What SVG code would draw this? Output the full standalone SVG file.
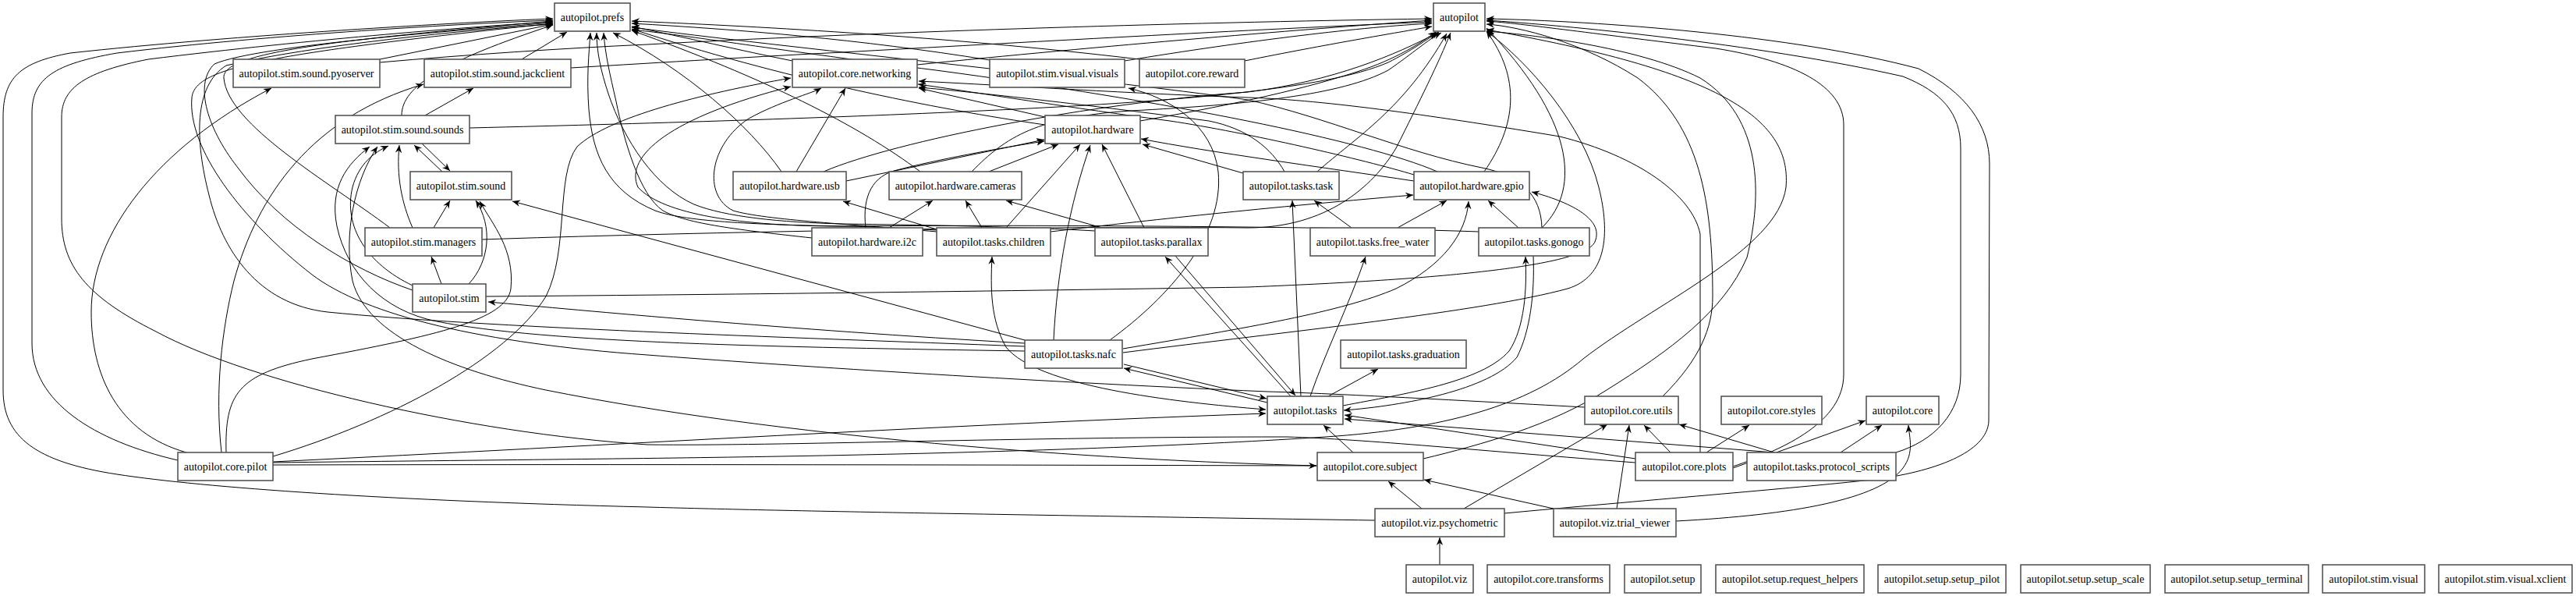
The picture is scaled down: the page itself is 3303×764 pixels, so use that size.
<svg xmlns="http://www.w3.org/2000/svg" width="3303" height="764" viewBox="0 0 3303 764">
<style>
.e{fill:none;stroke:#000;stroke-width:1;marker-end:url(#ah)}
.b{marker-start:url(#ah)}
.n rect{fill:#fff;stroke:#555;stroke-width:1.6}
.n text{font-family:"Liberation Serif","Times New Roman",serif;font-size:14px;text-anchor:middle;fill:#000}
</style>
<defs>
<marker id="ah" viewBox="0 0 10 10" refX="10" refY="5" markerWidth="10" markerHeight="10" markerUnits="userSpaceOnUse" orient="auto-start-reverse"><path d="M0,0.8 L10,5 L0,9.2 L3.2,5 z" fill="#000"/></marker>
</defs>
<rect width="3303" height="764" fill="#fff"/>
<g id="edges">
<path class="e" d="M1763,667 C1300,660 1000,655 830,650 C500,642 260,625 150,608 C45,592 4,560 4,500 L4,150 C4,100 25,80 90,68 C300,45 600,28 709,24"/>
<path class="e" d="M228,590 C120,565 41,515 41,440 L41,145 C41,100 70,82 150,68 C350,44 600,30 709,26"/>
<path class="e" d="M2097,593 C1900,578 1750,563 1650,560 C1300,560 1000,572 830,570 C600,555 320,490 200,425 C110,380 79,340 79,280 L79,150 C79,112 110,92 190,76 C400,50 620,33 709,28"/>
<path class="e" d="M500,292 C420,232 292,160 287,100 C284,68 420,52 709,27"/>
<path class="e" d="M515,148 C515,110 570,78 709,32"/>
<path class="e" d="M487,76 L709,31"/>
<path class="e" d="M669,76 L727,41"/>
<path class="e" d="M529,372 C450,345 360,290 305,215 C262,160 250,105 275,82 C330,58 600,38 709,29"/>
<path class="e" d="M1314,444 C1000,432 620,420 420,400 C330,390 285,320 268,250 C250,180 248,110 290,84 C400,58 600,38 709,31"/>
<path class="e" d="M2032,522 C1850,512 1700,504 1625,502 C1300,488 1000,468 830,455 C620,440 470,405 400,352 C310,282 240,190 246,125 C250,88 330,70 709,30"/>
<path class="e" d="M1314,450 C1000,445 700,440 560,412 C490,398 445,350 432,290 C422,240 445,210 474,188"/>
<path class="e" d="M1689,597 C1400,590 1000,560 700,500 C580,475 470,430 452,360 C440,300 455,230 484,188"/>
<path class="e" d="M487,80 C600,70 720,62 830,57 C1100,42 1500,29 1836,24"/>
<path class="e" d="M732,87 C850,80 980,72 1080,67 C1300,55 1600,38 1836,28"/>
<path class="e" d="M602,164 C850,158 1100,150 1300,140 C1500,130 1700,115 1780,80 C1810,65 1830,50 1845,41"/>
<path class="e" d="M618,307 C850,299 1300,289 1600,292 C1700,292 1760,240 1790,190 C1820,130 1845,80 1860,42"/>
<path class="e" d="M1176,83 C1400,60 1700,35 1836,26"/>
<path class="e" d="M1442,78 C1600,52 1750,34 1836,30"/>
<path class="e" d="M1596,78 C1700,57 1790,42 1836,34"/>
<path class="e" d="M1462,155 C1560,138 1660,118 1740,92 C1790,76 1822,55 1841,41"/>
<path class="e" d="M1056,220 C1150,180 1400,132 1600,118 C1710,104 1790,70 1843,42"/>
<path class="e" d="M1246,220 C1290,175 1330,150 1450,142 C1600,134 1720,122 1780,90 C1812,68 1832,50 1848,42"/>
<path class="e" d="M1689,220 C1740,175 1800,140 1855,43"/>
<path class="e" d="M1903,220 C1945,160 1950,100 1906,40"/>
<path class="e" d="M1977,292 C2030,240 2015,150 1906,36"/>
<path class="e" d="M350,593 C600,590 830,588 1000,585 C1300,580 1550,570 1700,560 C1850,550 1960,520 2030,460 C2120,390 2280,320 2290,240 C2298,150 2200,90 1906,38"/>
<path class="e" d="M1825,588 C1900,570 1990,545 2060,500 C2140,450 2210,400 2240,330 C2260,250 2260,150 2180,100 C2100,60 1960,44 1906,40"/>
<path class="e" d="M2132,508 C2180,460 2196,420 2196,380 C2196,260 2180,160 2100,100 C2030,55 1950,34 1906,31"/>
<path class="e" d="M2222,598 C2290,575 2364,540 2364,480 L2364,160 C2364,110 2300,78 2200,62 C2050,44 1950,30 1906,27"/>
<path class="e" d="M2431,580 C2480,565 2514,530 2514,480 L2514,190 C2514,145 2490,118 2440,98 C2250,55 2000,32 1906,26"/>
<path class="e" d="M1929,658 C2100,642 2300,626 2400,615 C2480,605 2548,580 2550,540 L2551,210 C2551,160 2520,118 2460,88 C2300,45 2050,27 1906,24"/>
<path class="e" d="M1440,452 C1650,425 1900,400 2010,370 C2060,355 2065,300 2050,240 C2030,160 1960,80 1906,40"/>
<path class="e" d="M567,220 L531,186"/>
<path class="e" d="M541,184 L577,219"/>
<path class="e" d="M556,292 L577,257"/>
<path class="e" d="M529,292 C515,260 508,225 512,186"/>
<path class="e" d="M566,364 L553,329"/>
<path class="e" d="M601,364 C628,335 632,290 610,257"/>
<path class="e" d="M529,366 C470,338 440,290 452,240 C460,210 480,195 498,187"/>
<path class="e" d="M623,380 C900,378 1300,373 1600,368 C1800,360 2030,345 2045,310 C2058,280 2010,258 1964,246"/>
<path class="e" d="M1314,440 C1000,422 750,398 626,387"/>
<path class="e" d="M1314,436 L657,258"/>
<path class="e" d="M1351,436 C1355,350 1372,260 1398,186"/>
<path class="e" d="M1423,436 C1500,380 1570,300 1562,220 C1555,160 1500,125 1447,113"/>
<path class="e" d="M1440,447 C1600,420 1720,400 1790,370 C1850,340 1880,300 1883,258"/>
<path class="e" d="M545,148 L607,113"/>
<path class="e" d="M239,580 C150,555 117,480 117,400 C117,300 200,190 348,113"/>
<path class="e" d="M284,580 C275,500 285,420 300,360 C330,250 400,150 543,108"/>
<path class="e" d="M290,580 C288,505 305,480 400,460 C560,430 650,410 655,370 C660,320 632,288 615,258"/>
<path class="e" d="M350,585 C500,540 650,460 700,380 C730,320 712,225 740,188 C780,150 900,120 1014,100"/>
<path class="e" d="M350,592 C800,570 1200,545 1623,530"/>
<path class="e" d="M350,596 C800,595 1300,596 1688,597"/>
<path class="e" d="M1896,297 C1700,290 1300,288 1080,290 C950,290 850,275 818,240 C800,200 860,150 1014,111"/>
<path class="e" d="M1021,220 L1084,113"/>
<path class="e" d="M1201,297 C1100,288 980,282 940,270 C900,250 910,185 960,152 C1000,130 1040,120 1053,113"/>
<path class="e" d="M1340,150 L1178,113"/>
<path class="e" d="M2180,580 L2180,300 C2170,250 2100,200 2000,175 C1850,150 1700,128 1600,125 C1450,120 1300,110 1178,104"/>
<path class="e" d="M1647,220 C1630,190 1600,165 1550,155 C1400,135 1250,118 1178,112"/>
<path class="e" d="M1813,224 C1750,205 1600,170 1500,155 C1350,135 1250,118 1177,108"/>
<path class="e" d="M1085,232 L1339,179"/>
<path class="e" d="M1110,292 C1105,250 1120,225 1150,218 C1200,205 1280,190 1339,181"/>
<path class="e" d="M1268,220 L1357,185"/>
<path class="e" d="M1290,292 L1385,185"/>
<path class="e" d="M1467,292 L1413,185"/>
<path class="e" d="M1813,232 C1700,215 1550,195 1463,178"/>
<path class="e" d="M1594,222 L1465,185"/>
<path class="e" d="M1140,292 L1196,257"/>
<path class="e" d="M1259,292 L1238,257"/>
<path class="e" d="M1413,292 L1290,257"/>
<path class="e" d="M1201,294 L1081,258"/>
<path class="e" d="M1792,292 L1855,257"/>
<path class="e" d="M1947,292 L1908,257"/>
<path class="e" d="M1347,297 C1450,285 1600,268 1812,250"/>
<path class="e" d="M1668,508 L1657,257"/>
<path class="e" d="M1733,292 L1685,257"/>
<path class="e" d="M1680,508 C1700,450 1730,390 1751,329"/>
<path class="e" d="M1722,520 C1800,505 1900,490 1935,450 C1955,420 1958,370 1956,329"/>
<path class="e" d="M1966,328 C1968,375 1962,425 1945,458 C1910,500 1800,520 1723,526"/>
<path class="e" d="M1655,508 L1494,329"/>
<path class="e" d="M1507,328 L1661,507"/>
<path class="e" d="M1625,516 L1441,472"/>
<path class="e" d="M1441,467 L1624,511"/>
<path class="e b" d="M1623,525 C1500,515 1330,495 1290,445 C1270,410 1270,370 1272,329"/>
<path class="e" d="M1703,508 L1767,473"/>
<path class="e" d="M1735,580 L1697,545"/>
<path class="e" d="M2097,588 L1724,532"/>
<path class="e" d="M2275,580 L1724,537"/>
<path class="e" d="M1877,652 L2061,544"/>
<path class="e" d="M2073,652 L2089,545"/>
<path class="e" d="M2142,580 L2108,545"/>
<path class="e" d="M2275,580 L2153,544"/>
<path class="e" d="M2188,580 L2243,545"/>
<path class="e" d="M2222,600 L2392,539"/>
<path class="e" d="M2360,580 L2413,545"/>
<path class="e" d="M2149,668 C2300,660 2410,640 2440,600 C2455,580 2448,560 2447,545"/>
<path class="e" d="M1823,652 L1780,617"/>
<path class="e" d="M1992,652 L1826,615"/>
<path class="e" d="M1846,724 L1846,689"/>
<path class="e" d="M1016,78 C950,65 880,48 810,34"/>
<path class="e" d="M1269,77 C1100,50 950,38 810,30"/>
<path class="e" d="M1461,76 C1200,45 950,33 810,27"/>
<path class="e" d="M1340,160 C1200,140 1000,100 810,37"/>
<path class="e" d="M1180,220 C1100,160 980,100 810,39"/>
<path class="e" d="M1002,220 C960,160 880,90 786,42"/>
<path class="e" d="M1843,220 C1750,180 1500,130 1200,90 C1000,65 880,45 810,38"/>
<path class="e" d="M1977,292 C1976,250 1950,225 1900,215 C1800,195 1700,150 1600,128 C1400,100 1000,60 810,35"/>
<path class="e" d="M1201,295 C1150,292 1100,290 1080,290 C980,288 880,285 840,270 C780,245 760,200 755,140 C752,100 755,70 757,42"/>
<path class="e" d="M1404,296 C1300,290 1150,288 1080,287 C1000,285 930,278 890,262 C840,240 800,180 780,120 C770,90 765,65 765,42"/>
<path class="e" d="M1041,305 C950,295 880,287 850,270 C820,250 800,180 790,130 C782,95 776,70 774,42"/>
</g>
<g id="n-prefs" class="n"><rect x="711" y="4" width="97" height="36"/><text x="759.5" y="27">autopilot.prefs</text></g>
<g id="n-autopilot" class="n"><rect x="1838" y="4" width="66" height="36"/><text x="1871" y="27">autopilot</text></g>
<g id="n-pyoserver" class="n"><rect x="299" y="76" width="188" height="36"/><text x="393" y="99">autopilot.stim.sound.pyoserver</text></g>
<g id="n-jackclient" class="n"><rect x="544" y="76" width="188" height="36"/><text x="638" y="99">autopilot.stim.sound.jackclient</text></g>
<g id="n-networking" class="n"><rect x="1016" y="76" width="160" height="36"/><text x="1096" y="99">autopilot.core.networking</text></g>
<g id="n-visuals" class="n"><rect x="1269" y="76" width="173" height="36"/><text x="1355.5" y="99">autopilot.stim.visual.visuals</text></g>
<g id="n-reward" class="n"><rect x="1461" y="76" width="135" height="36"/><text x="1528.5" y="99">autopilot.core.reward</text></g>
<g id="n-sounds" class="n"><rect x="430" y="148" width="172" height="36"/><text x="516" y="171">autopilot.stim.sound.sounds</text></g>
<g id="n-hardware" class="n"><rect x="1340" y="148" width="122" height="36"/><text x="1401" y="171">autopilot.hardware</text></g>
<g id="n-sound" class="n"><rect x="526" y="220" width="130" height="36"/><text x="591" y="243">autopilot.stim.sound</text></g>
<g id="n-usb" class="n"><rect x="940" y="220" width="145" height="36"/><text x="1012.5" y="243">autopilot.hardware.usb</text></g>
<g id="n-cameras" class="n"><rect x="1140" y="220" width="170" height="36"/><text x="1225" y="243">autopilot.hardware.cameras</text></g>
<g id="n-task" class="n"><rect x="1594" y="220" width="123" height="36"/><text x="1655.5" y="243">autopilot.tasks.task</text></g>
<g id="n-gpio" class="n"><rect x="1813" y="220" width="148" height="36"/><text x="1887" y="243">autopilot.hardware.gpio</text></g>
<g id="n-managers" class="n"><rect x="468" y="292" width="150" height="36"/><text x="543" y="315">autopilot.stim.managers</text></g>
<g id="n-i2c" class="n"><rect x="1041" y="292" width="142" height="36"/><text x="1112" y="315">autopilot.hardware.i2c</text></g>
<g id="n-children" class="n"><rect x="1201" y="292" width="146" height="36"/><text x="1274" y="315">autopilot.tasks.children</text></g>
<g id="n-parallax" class="n"><rect x="1404" y="292" width="145" height="36"/><text x="1476.5" y="315">autopilot.tasks.parallax</text></g>
<g id="n-free_water" class="n"><rect x="1680" y="292" width="160" height="36"/><text x="1760" y="315">autopilot.tasks.free_water</text></g>
<g id="n-gonogo" class="n"><rect x="1896" y="292" width="142" height="36"/><text x="1967" y="315">autopilot.tasks.gonogo</text></g>
<g id="n-stim" class="n"><rect x="529" y="364" width="94" height="36"/><text x="576" y="387">autopilot.stim</text></g>
<g id="n-nafc" class="n"><rect x="1314" y="436" width="125" height="36"/><text x="1376.5" y="459">autopilot.tasks.nafc</text></g>
<g id="n-graduation" class="n"><rect x="1719" y="436" width="161" height="36"/><text x="1799.5" y="459">autopilot.tasks.graduation</text></g>
<g id="n-tasks" class="n"><rect x="1625" y="508" width="97" height="36"/><text x="1673.5" y="531">autopilot.tasks</text></g>
<g id="n-utils" class="n"><rect x="2032" y="508" width="120" height="36"/><text x="2092" y="531">autopilot.core.utils</text></g>
<g id="n-styles" class="n"><rect x="2207" y="508" width="129" height="36"/><text x="2271.5" y="531">autopilot.core.styles</text></g>
<g id="n-core" class="n"><rect x="2393" y="508" width="93" height="36"/><text x="2439.5" y="531">autopilot.core</text></g>
<g id="n-pilot" class="n"><rect x="228" y="580" width="122" height="36"/><text x="289" y="603">autopilot.core.pilot</text></g>
<g id="n-subject" class="n"><rect x="1689" y="580" width="136" height="36"/><text x="1757" y="603">autopilot.core.subject</text></g>
<g id="n-plots" class="n"><rect x="2097" y="580" width="125" height="36"/><text x="2159.5" y="603">autopilot.core.plots</text></g>
<g id="n-protocol_scripts" class="n"><rect x="2240" y="580" width="191" height="36"/><text x="2335.5" y="603">autopilot.tasks.protocol_scripts</text></g>
<g id="n-psychometric" class="n"><rect x="1763" y="652" width="166" height="36"/><text x="1846" y="675">autopilot.viz.psychometric</text></g>
<g id="n-trial_viewer" class="n"><rect x="1992" y="652" width="157" height="36"/><text x="2070.5" y="675">autopilot.viz.trial_viewer</text></g>
<g id="n-viz" class="n"><rect x="1803" y="724" width="86" height="36"/><text x="1846" y="747">autopilot.viz</text></g>
<g id="n-transforms" class="n"><rect x="1907" y="724" width="157" height="36"/><text x="1985.5" y="747">autopilot.core.transforms</text></g>
<g id="n-setup" class="n"><rect x="2083" y="724" width="98" height="36"/><text x="2132" y="747">autopilot.setup</text></g>
<g id="n-request_helpers" class="n"><rect x="2200" y="724" width="190" height="36"/><text x="2295" y="747">autopilot.setup.request_helpers</text></g>
<g id="n-setup_pilot" class="n"><rect x="2408" y="724" width="164" height="36"/><text x="2490" y="747">autopilot.setup.setup_pilot</text></g>
<g id="n-setup_scale" class="n"><rect x="2591" y="724" width="166" height="36"/><text x="2674" y="747">autopilot.setup.setup_scale</text></g>
<g id="n-setup_terminal" class="n"><rect x="2776" y="724" width="184" height="36"/><text x="2868" y="747">autopilot.setup.setup_terminal</text></g>
<g id="n-stim_visual" class="n"><rect x="2978" y="724" width="131" height="36"/><text x="3043.5" y="747">autopilot.stim.visual</text></g>
<g id="n-xclient" class="n"><rect x="3127" y="724" width="171" height="36"/><text x="3212.5" y="747">autopilot.stim.visual.xclient</text></g>
</svg>
